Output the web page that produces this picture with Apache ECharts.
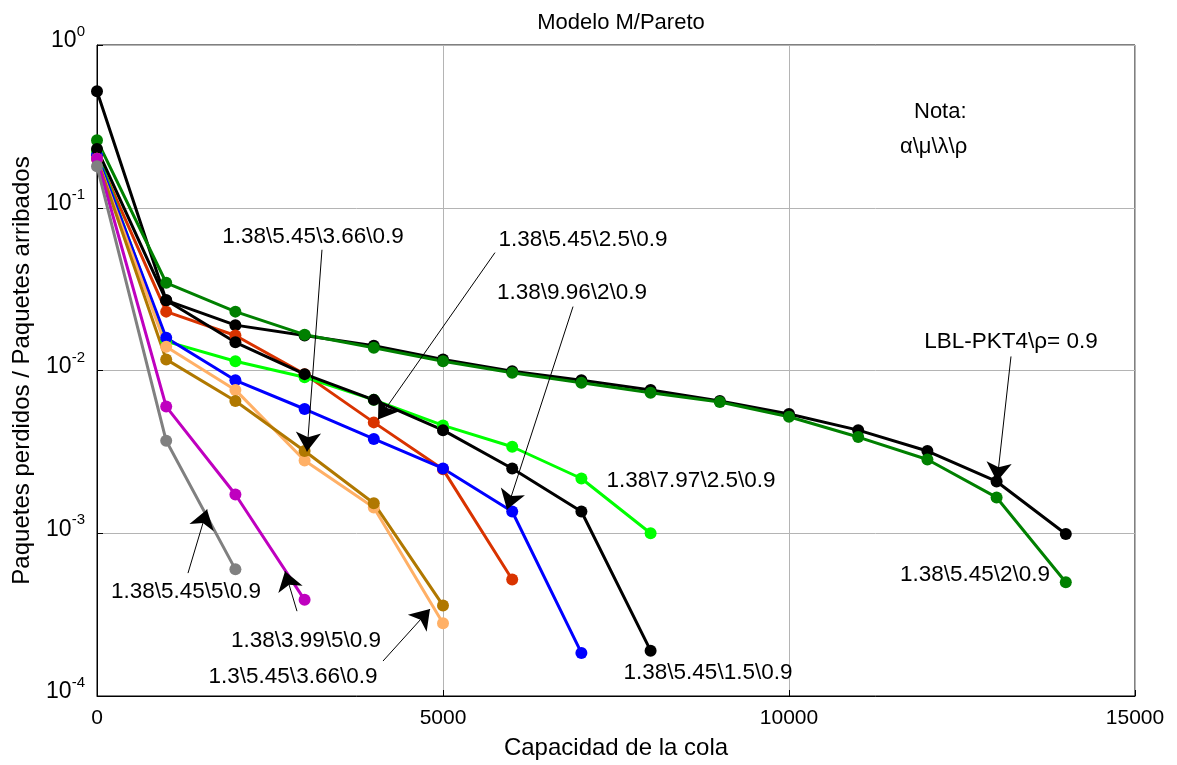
<!DOCTYPE html>
<html>
<head>
<meta charset="utf-8">
<script src="https://cdn.jsdelivr.net/npm/echarts@6/dist/echarts.min.js"></script>
<style>html,body{margin:0;padding:0;background:#fff}#c{width:1177px;height:765px}</style>
</head>
<body>
<div id="c"></div>
<script>
// Queue capacity (x values), shared by all series; each series uses the first N entries
const capacity = [0,1000,2000,3000,4000,5000,6000,7000,8000,9000,10000,11000,12000,13000,14000];

// Loss ratio (Paquetes perdidos / Paquetes arribados)
const lblPkt4      = [0.52,0.027,0.019,0.0164,0.0142,0.0117,0.0099,0.0087,0.0076,0.0065,0.0054,0.0043,0.0032,0.00208,0.00099];
const s138_545_2   = [0.26,0.0346,0.023,0.0166,0.0138,0.0114,0.0097,0.0084,0.0073,0.0064,0.0052,0.0039,0.00284,0.00166,0.0005];
const s138_545_15  = [0.23,0.027,0.0149,0.0095,0.0066,0.0043,0.0025,0.00136,0.00019];
const s138_545_25  = [0.21,0.023,0.0164,0.0095,0.0048,0.00247,0.00052];
const s138_996_2   = [0.21,0.0159,0.0087,0.0058,0.0038,0.0025,0.00136,0.000184];
const s138_797_25  = [0.22,0.0151,0.0114,0.0091,0.0066,0.0046,0.0034,0.00217,0.001];
const s138_545_366 = [0.2,0.0117,0.0065,0.0032,0.00153,0.00036];
const s13_545_366  = [0.2,0.014,0.0076,0.0028,0.00144,0.00028];
const s138_399_5   = [0.2,0.006,0.00173,0.00039];
const s138_545_5   = [0.18,0.0037,0.0006];

// Annotation arrows: [startX, startY, endX, endY] in data units
const arrows = [
  [3251,0.0552,3035,0.00318],
  [5751,0.053,4061,0.0050],
  [6879,0.0247,5925,0.0014],
  [13208,0.0122,13006,0.00208],
  [1315,0.000569,1590,0.0014],
  [2890,0.000332,2717,0.000585],
  [4133,0.000164,4812,0.000342]
];

const seriesDefs = [
  {name:'LBL-PKT4', data:lblPkt4, color:'#000000'},
  {name:'1.38\\5.45\\2\\0.9', data:s138_545_2, color:'#008000'},
  {name:'1.38\\5.45\\2.5\\0.9', data:s138_545_25, color:'#D93300'},
  {name:'1.38\\7.97\\2.5\\0.9', data:s138_797_25, color:'#00FF00'},
  {name:'1.38\\9.96\\2\\0.9', data:s138_996_2, color:'#0000FF'},
  {name:'1.38\\5.45\\1.5\\0.9', data:s138_545_15, color:'#000000'},
  {name:'1.3\\5.45\\3.66\\0.9', data:s13_545_366, color:'#FFB066'},
  {name:'1.38\\5.45\\3.66\\0.9', data:s138_545_366, color:'#B07800'},
  {name:'1.38\\3.99\\5\\0.9', data:s138_399_5, color:'#BF00BF'},
  {name:'1.38\\5.45\\5\\0.9', data:s138_545_5, color:'#808080'}
];

const FONT = 'Liberation Sans, Arial, sans-serif';
const series = seriesDefs.map(d => ({
  name: d.name, type: 'line',
  data: d.data.map((v,i) => [capacity[i], v]),
  symbol: 'circle', symbolSize: 12,
  lineStyle: {color: d.color, width: 3},
  itemStyle: {color: d.color},
  animation: false
}));
series.push({
  type: 'line', data: [], animation: false,
  markLine: {
    silent: true, animation: false,
    symbol: ['none','arrow'], symbolSize: 19,
    lineStyle: {color:'#000', width: 1, type:'solid'},
    label: {show:false},
    data: arrows.map(a => [{coord:[a[0],a[1]]},{coord:[a[2],a[3]]}])
  }
});

const labels = [
  ['1.38\\5.45\\3.66\\0.9', 313, 237],
  ['1.38\\5.45\\2.5\\0.9', 583, 240],
  ['1.38\\9.96\\2\\0.9', 572, 293],
  ['LBL-PKT4\\ρ= 0.9', 1011, 342],
  ['1.38\\7.97\\2.5\\0.9', 691, 481],
  ['1.38\\5.45\\1.5\\0.9', 708, 673],
  ['1.38\\5.45\\2\\0.9', 975, 575],
  ['1.38\\5.45\\5\\0.9', 186, 592],
  ['1.38\\3.99\\5\\0.9', 306, 641],
  ['1.3\\5.45\\3.66\\0.9', 293, 677]
];
const graphic = labels.map(l => ({
  type:'text', x:l[1], y:l[2], z:100,
  style:{text:l[0], fill:'#000', font:'22.5px '+FONT, textAlign:'center', textVerticalAlign:'middle'}
}));
graphic.push({type:'text', x:914, y:112, style:{text:'Nota:', fill:'#000', font:'22px '+FONT, textVerticalAlign:'middle'}});
graphic.push({type:'text', x:900, y:147, style:{text:'α\\μ\\λ\\ρ', fill:'#000', font:'22px '+FONT, textVerticalAlign:'middle'}});

const chart = echarts.init(document.getElementById('c'), null, {renderer:'canvas'});
chart.setOption({
  backgroundColor: '#fff',
  animation: false,
  title: {text:'Modelo M/Pareto', left: 616, top: 7, textAlign:'center',
    textStyle:{fontFamily:FONT, fontSize:22, fontWeight:'normal', color:'#000'}},
  grid: {left:97, right:42, top:45, bottom:68, show:true, borderColor:'#000', borderWidth:1},
  xAxis: {
    type:'value', min:0, max:15000, interval:5000,
    name:'Capacidad de la cola', nameLocation:'middle', nameGap:40,
    nameTextStyle:{fontFamily:FONT, fontSize:24, color:'#000'},
    axisLine:{show:true, lineStyle:{color:'#000', width:1}},
    axisTick:{inside:true, length:6, lineStyle:{color:'#000'}},
    axisLabel:{fontFamily:FONT, fontSize:21, color:'#000', margin:12, formatter: v => String(v)},
    splitLine:{show:true, lineStyle:{color:'#b4b4b4', width:1}}
  },
  yAxis: {
    type:'log', logBase:10, min:0.0001, max:1, interval:1,
    name:'Paquetes perdidos / Paquetes arribados', nameLocation:'middle', nameGap:63,
    nameTextStyle:{fontFamily:FONT, fontSize:24, color:'#000'},
    axisLine:{show:true, lineStyle:{color:'#000', width:1}},
    axisTick:{inside:true, length:6, lineStyle:{color:'#000'}},
    axisLabel:{
      margin:12,
      formatter: v => '{b|10}{s|' + Math.round(Math.log10(v)) + '}',
      rich:{
        b:{fontFamily:FONT, fontSize:23, color:'#000', padding:[0,0,8,0]},
        s:{fontFamily:FONT, fontSize:15, color:'#000', padding:[0,0,26,0]}
      }
    },
    splitLine:{show:true, lineStyle:{color:'#b4b4b4', width:1}},
    minorTick:{show:false}
  },
  series: series,
  graphic: graphic
});
</script>
</body>
</html>
